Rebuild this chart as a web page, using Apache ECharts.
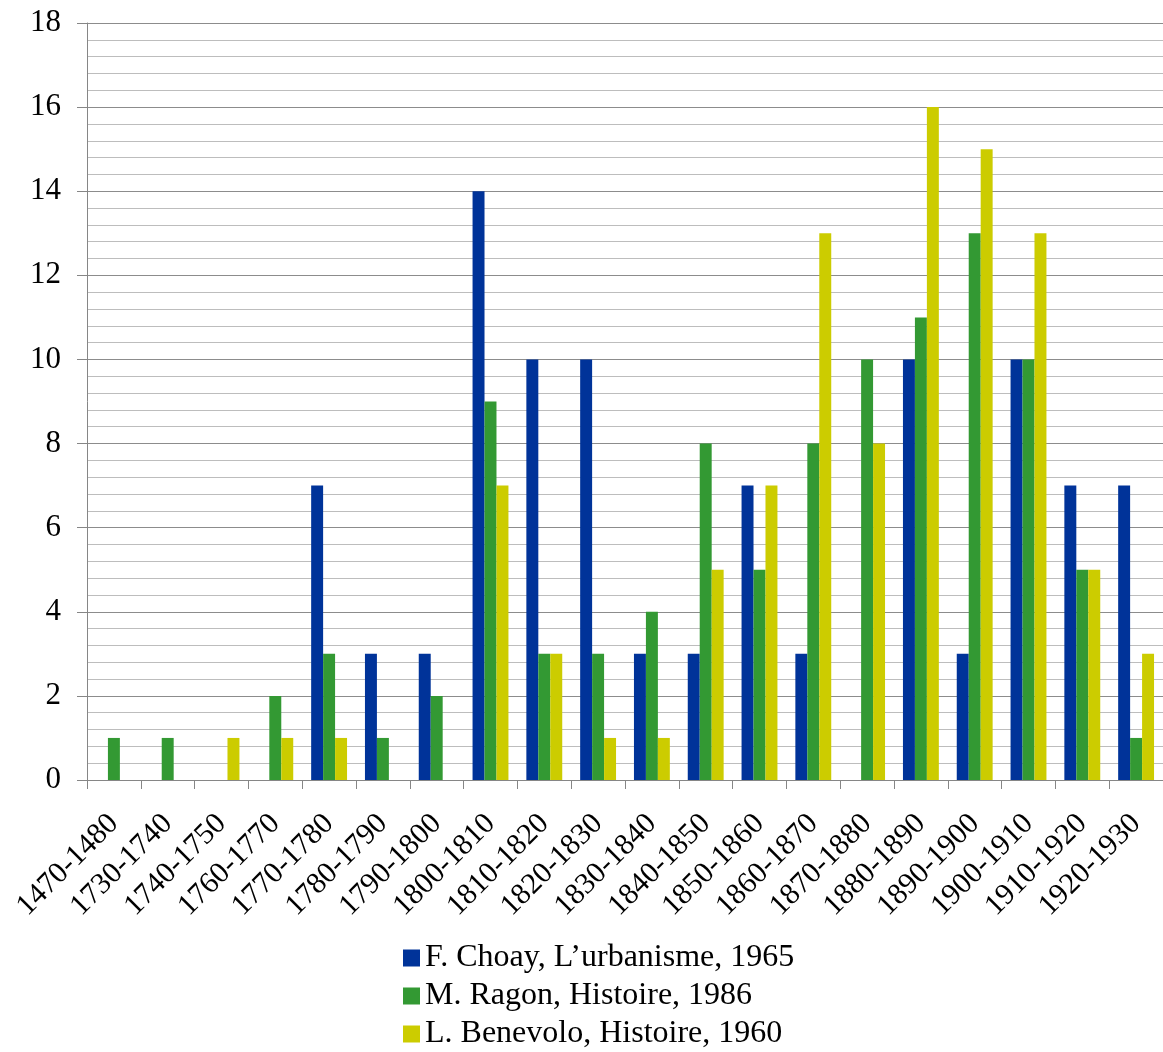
<!DOCTYPE html>
<html>
<head>
<meta charset="utf-8">
<script src="https://cdn.jsdelivr.net/npm/echarts@6/dist/echarts.min.js"></script>
<style>
  html, body { margin: 0; padding: 0; background: #ffffff; }
  #chart { width: 1163px; height: 1052px; }
</style>
</head>
<body>
<div id="chart"></div>
<script>
// Decades covered by the count of works
const periods = [
  '1470-1480', '1730-1740', '1740-1750', '1760-1770', '1770-1780',
  '1780-1790', '1790-1800', '1800-1810', '1810-1820', '1820-1830',
  '1830-1840', '1840-1850', '1850-1860', '1860-1870', '1870-1880',
  '1880-1890', '1890-1900', '1900-1910', '1910-1920', '1920-1930'
];

const seriesNames = [
  'F. Choay, L\u2019urbanisme, 1965',
  'M. Ragon, Histoire, 1986',
  'L. Benevolo, Histoire, 1960'
];

const choay    = [0, 0, 0, 0, 7, 3, 3, 14, 10, 10, 3, 3, 7, 3, 0, 10, 3, 10, 7, 7];
const ragon    = [1, 1, 0, 2, 3, 1, 2, 9, 3, 3, 4, 8, 5, 8, 10, 11, 13, 10, 5, 1];
const benevolo = [0, 0, 1, 1, 1, 0, 0, 7, 3, 1, 1, 5, 7, 13, 8, 16, 15, 13, 5, 3];

const yTicks = { min: 0, max: 18, interval: 2 };

const colors = ['#003399', '#339933', '#cccc00'];
const serif = '"Liberation Serif", "Times New Roman", serif';

const chart = echarts.init(document.getElementById('chart'), null, { renderer: 'canvas' });

const makeBar = (name, data, color) => ({
  name: name,
  type: 'bar',
  data: data,
  barGap: '0%',
  barCategoryGap: '33.3%',
  itemStyle: { color: color },
  emphasis: { disabled: true }
});

chart.setOption({
  animation: false,
  backgroundColor: '#ffffff',
  grid: { left: 87, top: 23, width: 1081, bottom: 272, containLabel: false },
  legend: {
    orient: 'vertical',
    left: 403,
    top: 942,
    padding: 0,
    icon: 'rect',
    itemWidth: 17,
    itemHeight: 17,
    itemGap: 6,
    textStyle: { fontFamily: serif, fontSize: 32, lineHeight: 32, color: '#000000' },
    data: seriesNames
  },
  xAxis: {
    type: 'category',
    data: periods,
    axisLine: { show: true, lineStyle: { color: '#868686', width: 1 } },
    axisTick: { show: true, length: 9, alignWithLabel: false, lineStyle: { color: '#868686' } },
    axisLabel: {
      rotate: 45,
      interval: 0,
      margin: 39,
      fontFamily: serif,
      fontSize: 30,
      color: '#000000'
    },
    splitLine: { show: false }
  },
  yAxis: {
    type: 'value',
    min: yTicks.min,
    max: yTicks.max,
    interval: yTicks.interval,
    axisLine: { show: true, lineStyle: { color: '#868686', width: 1 } },
    axisTick: { show: true, length: 10, lineStyle: { color: '#868686' } },
    axisLabel: { margin: 26, fontFamily: serif, fontSize: 31, color: '#000000' },
    splitLine: { show: true, lineStyle: { color: '#8c8c8c', width: 1 } },
    minorTick: { show: false, splitNumber: 5 },
    minorSplitLine: { show: true, lineStyle: { color: '#bdbdbd', width: 1 } }
  },
  series: [
    makeBar(seriesNames[0], choay, colors[0]),
    makeBar(seriesNames[1], ragon, colors[1]),
    makeBar(seriesNames[2], benevolo, colors[2])
  ]
});
</script>
</body>
</html>
